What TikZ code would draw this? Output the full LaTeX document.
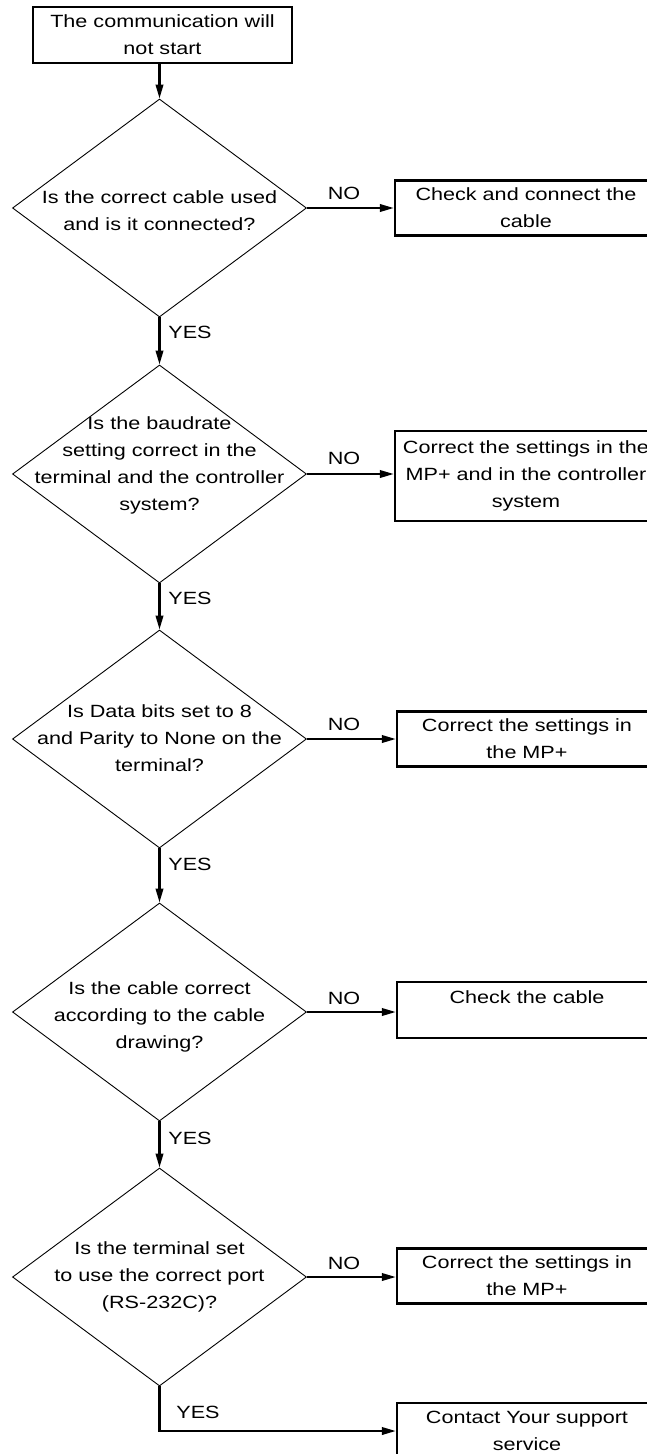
\documentclass[tikz,border=0pt]{standalone}
\usepackage{fontspec}
\setmainfont{Liberation Sans}[FakeStretch=1.22]
\usetikzlibrary{shapes.geometric,arrows.meta}

\begin{document}
\begin{tikzpicture}[x=1pt,y=-1pt,
  txt/.style={font=\fontsize{17.7}{27}\selectfont, align=center, inner sep=0pt},
  box/.style={draw, line width=2.4pt, rectangle, inner sep=0pt, txt},
  decision/.style={draw, line width=0.9pt, diamond, minimum width=294pt,
    minimum height=218pt, inner sep=0pt},
  arr/.style={line width=2.2pt, -{Triangle[length=14pt,width=7.5pt]}},
  lbl/.style={txt}]

\useasboundingbox (0,0) rectangle (647,1454);
\clip (0,0) rectangle (647,1454);
\fill[white] (0,0) rectangle (647,1454);

% start
\node[box, minimum width=259pt, minimum height=56pt] (start) at (162.5,35)
  {The communication will\\not start};

% decisions
\node[decision] (d1) at (159.5,208) {};
\node[txt] (q1) at (159.5,211) {Is the correct cable used\\and is it connected?};

\node[decision] (d2) at (159.5,474) {};
\node[txt] (q2) at (159.5,465) {Is the baudrate\\setting correct in the\\terminal and the controller\\system?};

\node[decision] (d3) at (159.5,739) {};
\node[txt] (q3) at (159.5,738) {Is Data bits set to 8\\and Parity to None on the\\terminal?};

\node[decision] (d4) at (159.5,1012) {};
\node[txt] (q4) at (159.5,1017) {Is the cable correct\\according to the cable\\drawing?};

\node[decision] (d5) at (159.5,1277) {};
\node[txt] (q5) at (159.5,1277) {Is the terminal set\\to use the correct port\\(RS-232C)?};

% actions
\node[box, minimum width=262pt, minimum height=55pt] (b1) at (526,208)
  {Check and connect the\\cable};
\node[box, minimum width=262pt, minimum height=90pt] (b2) at (526,476)
  {Correct the settings in the\\MP+ and in the controller\\system};
\node[box, minimum width=260pt, minimum height=55pt] (b3) at (527,739)
  {Correct the settings in\\the MP+};
\node[box, minimum width=260pt, minimum height=56pt] (b4) at (527,1010) {};
\node[txt] (b4t) at (527,997) {Check the cable};
\node[box, minimum width=260pt, minimum height=55pt] (b5) at (527,1276)
  {Correct the settings in\\the MP+};
\node[box, minimum width=260pt, minimum height=56pt] (b6) at (527,1431)
  {Contact Your support\\service};

% connectors
\draw[arr] (d1.north |- start.south) -- (d1.north);
\draw[arr] (d1.south) -- (d2.north);
\draw[arr] (d2.south) -- (d3.north);
\draw[arr] (d3.south) -- (d4.north);
\draw[arr] (d4.south) -- (d5.north);
\draw[arr] (d5.south) |- (b6.west);

\draw[arr] (d1.east) -- (d1.east -| b1.west);
\draw[arr] (d2.east) -- (d2.east -| b2.west);
\draw[arr] (d3.east) -- (d3.east -| b3.west);
\draw[arr] (d4.east) -- (d4.east -| b4.west);
\draw[arr] (d5.east) -- (d5.east -| b5.west);

% branch labels
\node[lbl] (n1) at (344,193) {NO};
\node[lbl] (n2) at (344,458) {NO};
\node[lbl] (n3) at (344,724) {NO};
\node[lbl] (n4) at (344,998) {NO};
\node[lbl] (n5) at (344,1263) {NO};

\node[lbl] (y1) at (190,332) {YES};
\node[lbl] (y2) at (190,598) {YES};
\node[lbl] (y3) at (190,864) {YES};
\node[lbl] (y4) at (190,1138) {YES};
\node[lbl] (y5) at (198,1412) {YES};
\end{tikzpicture}
\end{document}
